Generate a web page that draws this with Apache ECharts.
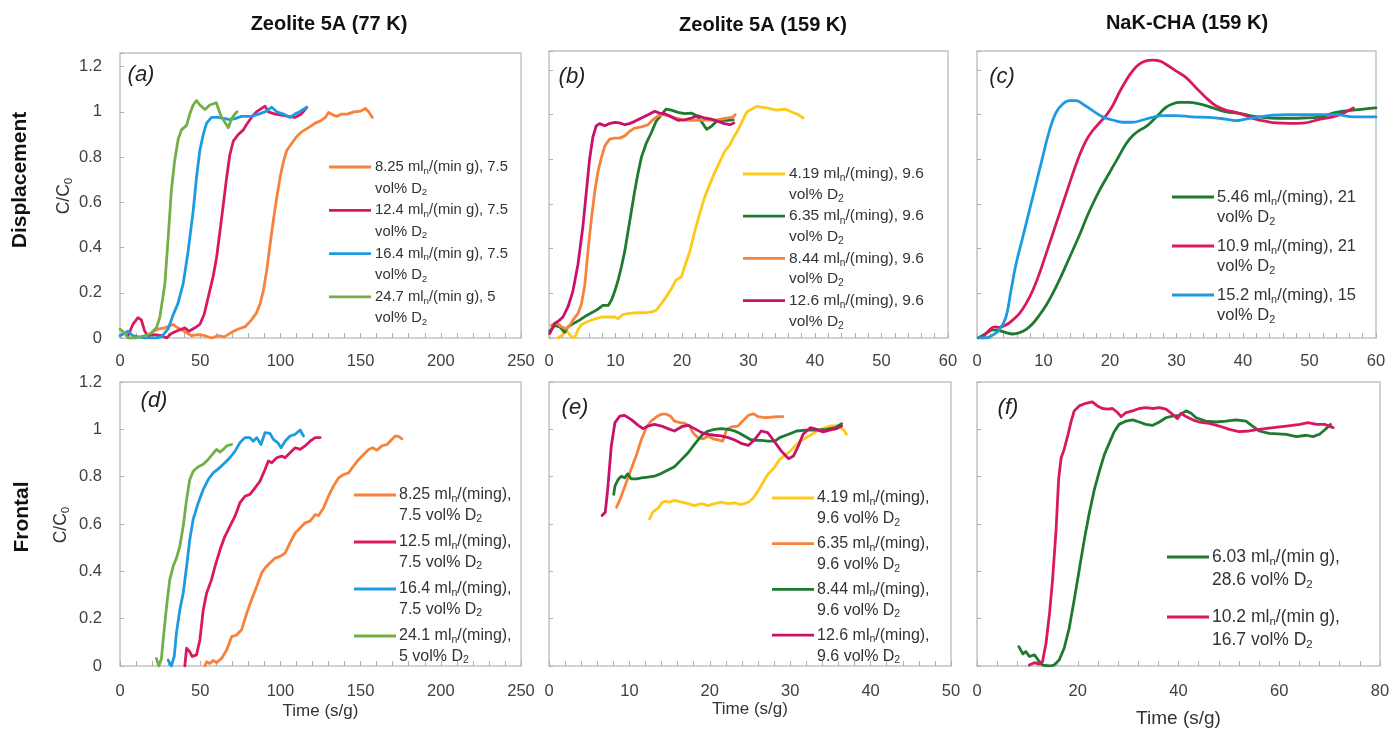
<!DOCTYPE html>
<html>
<head>
<meta charset="utf-8">
<script src="https://cdn.jsdelivr.net/npm/echarts/dist/echarts.min.js"></script>
<style>
  html, body { margin: 0; padding: 0; background: #ffffff; }
  #chart { width: 1392px; height: 731px; }
</style>
</head>
<body>
<div id="chart"></div>
<script>
// ---------- Breakthrough curves, C/C0 against time (s/g) ----------

// (a) Zeolite 5A, 77 K, displacement
const a_8_25 = [[21,0.03],[24,0.04],[28,0.045],[33,0.06],[36,0.045],[40,0.03],[44.6,0.01],[49,0.015],[53,0.01],[57,0],[61,0.01],[65,0.005],[69.6,0.025],[73.8,0.04],[78,0.05],[82,0.08],[85,0.11],[87.3,0.15],[89.4,0.21],[91.5,0.3],[93.5,0.41],[95.6,0.52],[97.7,0.62],[99.8,0.71],[101.9,0.78],[104,0.83],[107,0.86],[110,0.89],[113,0.91],[117.5,0.93],[121.7,0.95],[125,0.96],[128,0.975],[130,0.997],[133,0.985],[135.4,0.98],[138,0.99],[141.7,0.99],[145.8,1.0],[150,1.003],[153,1.015],[155,1.0],[157.3,0.975]];
const a_12_4 = [[5,0.01],[8,0.06],[11.2,0.09],[13.3,0.08],[15.4,0.03],[17.5,0.01],[21.7,0.015],[26,0.01],[29,0],[32,0.02],[35,0.03],[40.4,0.045],[43,0.03],[46.7,0.045],[49.8,0.06],[52.5,0.105],[55,0.18],[58,0.27],[60.2,0.355],[62.3,0.47],[64.4,0.59],[66.5,0.71],[68.5,0.81],[70.6,0.87],[73.8,0.9],[76.9,0.92],[79,0.945],[82,0.975],[85,1.0],[88.3,1.015],[90.4,1.025],[92.5,1.0],[96.7,0.99],[100.8,0.985],[105,0.98],[109,0.975],[113,0.99],[116.5,1.02]];
const a_16_4 = [[0,0.01],[5,0.03],[8,0.01],[15,0],[22,0],[25.8,0.005],[30,0.04],[33,0.1],[36,0.15],[39.4,0.24],[42.5,0.385],[45.6,0.56],[47.7,0.71],[49.8,0.83],[51.9,0.9],[54,0.95],[57,0.975],[61,0.975],[65.4,0.97],[68.5,0.965],[71.7,0.97],[75.8,0.98],[82,0.98],[86.3,0.99],[90.4,1.0],[94.6,1.02],[97.7,1.0],[101.9,0.99],[106,0.975],[109,0.99],[112,1.0],[116.5,1.02]];
const a_24_7 = [[0,0.04],[3,0.02],[5,0],[10,0],[15,0.01],[19,0.02],[22.7,0.045],[24.8,0.09],[28,0.24],[30,0.44],[32,0.65],[34,0.78],[36.3,0.88],[38.3,0.92],[41.5,0.94],[43.5,0.99],[45.6,1.03],[47.7,1.05],[49.8,1.03],[53,1.01],[56,1.03],[60,1.04],[63,0.98],[67.5,0.93],[69.6,0.97],[71.6,0.99],[73,1.0]];

// (b) Zeolite 5A, 159 K, displacement
const b_4_19 = [[1.35,0],[1.85,0.01],[2.6,0.034],[3.5,0.0],[4.0,0.01],[4.4,0.04],[4.9,0.06],[5.9,0.075],[6.9,0.085],[7.9,0.094],[8.9,0.094],[9.9,0.094],[10.4,0.086],[11.1,0.105],[12.1,0.11],[13.1,0.113],[14.4,0.113],[15.6,0.118],[16.1,0.124],[16.9,0.154],[17.6,0.183],[18.4,0.22],[19.1,0.26],[19.9,0.273],[20.4,0.32],[21.2,0.39],[21.9,0.475],[22.7,0.56],[23.4,0.63],[24.2,0.69],[24.9,0.74],[25.7,0.79],[26.4,0.835],[27.2,0.865],[27.7,0.895],[28.4,0.93],[29.2,0.98],[29.7,1.01],[30.2,1.02],[31.2,1.037],[32.7,1.03],[34.2,1.02],[35.5,1.025],[36.7,1.01],[37.5,1.0],[38.2,0.985]];
const b_6_35 = [[0.1,0.03],[0.85,0.056],[1.6,0.05],[2.36,0.026],[2.86,0.05],[3.6,0.064],[4.6,0.08],[5.6,0.1],[6.6,0.116],[7.4,0.13],[8.1,0.146],[8.9,0.146],[9.4,0.17],[9.9,0.21],[10.4,0.26],[10.9,0.32],[11.4,0.39],[11.9,0.48],[12.4,0.57],[12.9,0.66],[13.4,0.74],[13.9,0.81],[14.6,0.87],[15.4,0.92],[16.1,0.97],[16.9,1.0],[17.6,1.025],[18.4,1.02],[19.4,1.01],[20.4,1.005],[21.4,1.007],[22.2,0.995],[22.9,0.97],[23.7,0.935],[24.4,0.947],[25.2,0.97],[25.9,0.975],[26.9,0.975],[27.7,0.977]];
const b_8_44 = [[0.35,0.056],[1.1,0.07],[1.85,0.05],[2.6,0.04],[3.1,0.056],[3.6,0.08],[4.36,0.11],[4.86,0.15],[5.4,0.24],[5.86,0.39],[6.4,0.54],[6.9,0.66],[7.4,0.75],[7.9,0.81],[8.4,0.86],[9.1,0.89],[9.9,0.895],[10.6,0.895],[11.4,0.905],[12.1,0.925],[12.9,0.94],[13.9,0.945],[14.9,0.955],[15.6,0.977],[16.4,0.995],[17.1,1.0],[18.1,0.995],[19.1,0.985],[20.2,0.977],[21.2,0.975],[22.4,0.975],[23.7,0.977],[24.9,0.975],[25.9,0.98],[26.9,0.985],[27.7,0.99],[28,1.0]];
const b_12_6 = [[0.1,0.02],[0.85,0.064],[1.6,0.08],[2.1,0.094],[2.86,0.14],[3.6,0.21],[4.36,0.33],[5.1,0.5],[5.6,0.65],[6.1,0.8],[6.6,0.9],[7.1,0.95],[7.6,0.96],[8.4,0.95],[9.1,0.96],[9.9,0.965],[10.6,0.963],[11.4,0.955],[12.1,0.96],[12.9,0.97],[13.9,0.985],[14.9,1.0],[15.9,1.015],[16.6,1.007],[17.4,1.004],[18.4,0.99],[19.4,0.975],[20.4,0.977],[21.4,0.985],[22.4,0.995],[23.4,0.985],[24.4,0.98],[25.4,0.97],[26.4,0.96],[27.2,0.955],[27.8,0.963]];

// (c) NaK-CHA, 159 K, displacement
const c_5_46 = [[0.2,0],[1.35,0.02],[2.36,0.036],[3.36,0.033],[4.36,0.024],[5.36,0.018],[6.4,0.024],[7.4,0.039],[8.4,0.065],[9.4,0.103],[10.4,0.147],[11.4,0.2],[12.4,0.26],[13.4,0.326],[14.4,0.393],[15.4,0.46],[16.4,0.534],[17.4,0.6],[18.4,0.66],[19.4,0.713],[20.4,0.765],[21.4,0.817],[22.4,0.869],[23.4,0.906],[24.4,0.929],[25.4,0.946],[26.4,0.973],[27.4,1.003],[28.4,1.033],[29.4,1.048],[30.4,1.055],[31.9,1.055],[33.4,1.048],[34.9,1.036],[36.4,1.021],[37.9,1.01],[39.5,1.006],[41,0.996],[43,0.988],[45,0.984],[47,0.984],[49,0.985],[51.6,0.99],[54,1.01],[56.6,1.02],[60,1.03]];
const c_10_9 = [[0.8,0],[1.85,0.036],[2.6,0.05],[3.36,0.048],[4.36,0.058],[5.36,0.08],[6.4,0.11],[7.4,0.155],[8.4,0.214],[9.4,0.29],[10.4,0.378],[11.4,0.467],[12.4,0.557],[13.4,0.646],[14.4,0.735],[15.4,0.817],[16.4,0.884],[17.4,0.929],[18.5,0.966],[19.4,0.996],[20.4,1.04],[21.4,1.1],[22.4,1.152],[23.4,1.196],[24.4,1.226],[25.4,1.241],[26.4,1.244],[27.4,1.241],[28.4,1.226],[29.9,1.196],[31.4,1.167],[32.9,1.122],[34.4,1.077],[35.9,1.04],[37.4,1.021],[38.9,1.01],[40.4,0.996],[41.9,0.98],[43.5,0.97],[45,0.963],[47,0.961],[49,0.962],[51.6,0.98],[54,0.994],[56.6,1.03]];
const c_15_2 = [[0.35,0],[1.35,0],[2.36,0.013],[3.36,0.036],[4.36,0.095],[5.1,0.21],[5.86,0.33],[6.87,0.45],[7.87,0.57],[8.87,0.69],[9.87,0.81],[10.9,0.93],[11.9,1.01],[12.9,1.048],[13.9,1.063],[14.9,1.063],[15.9,1.048],[17.4,1.018],[18.9,0.99],[20.4,0.976],[21.9,0.966],[23.4,0.966],[24.9,0.976],[26.4,0.988],[27.9,0.996],[29.9,0.996],[32.4,0.99],[34.9,0.988],[37.4,0.98],[38.9,0.973],[40.4,0.98],[42.5,0.99],[44.5,0.998],[46.6,1.0],[51.6,1.0],[54.1,1.0],[56.6,0.99],[60,0.99]];

// (d) Zeolite 5A, 77 K, frontal
const d_8_25 = [[52.9,0],[54,0.018],[56,0.011],[58.1,0.023],[60.2,0.014],[63.3,0.032],[66.5,0.068],[69.6,0.124],[72.7,0.131],[75.8,0.153],[79,0.223],[82,0.28],[85.2,0.336],[88.3,0.393],[90.4,0.414],[93.5,0.435],[96.7,0.456],[99.8,0.463],[102.9,0.477],[106,0.52],[109.2,0.562],[112.3,0.583],[115.4,0.605],[118.5,0.612],[121.7,0.64],[123.8,0.636],[126.9,0.668],[130,0.718],[133.1,0.76],[136.3,0.795],[139.4,0.809],[142.5,0.816],[145.6,0.845],[148.8,0.873],[151.9,0.894],[155,0.915],[157.5,0.922],[160.2,0.912],[163.3,0.93],[166.5,0.936],[169.6,0.958],[171.7,0.972],[173.8,0.969],[175.8,0.96]];
const d_12_5 = [[40.4,0],[41.5,0.075],[43.5,0.06],[45,0.04],[47.7,0.047],[49.8,0.11],[51.9,0.237],[54,0.308],[57,0.364],[59.2,0.42],[62.3,0.49],[65.4,0.548],[68.5,0.59],[71.7,0.633],[74.8,0.69],[77.9,0.717],[81,0.725],[84.2,0.753],[87.3,0.781],[90.4,0.83],[92.5,0.866],[94.6,0.859],[97.7,0.88],[100.8,0.887],[102.9,0.88],[106,0.901],[109.2,0.922],[112.3,0.915],[115.4,0.93],[118.5,0.95],[121.7,0.965],[124.8,0.965]];
const d_16_4 = [[30,0.025],[32,0],[33.8,0.04],[35.2,0.14],[37.3,0.237],[39.4,0.308],[41.5,0.42],[43.5,0.534],[45.6,0.619],[48.8,0.69],[51.9,0.746],[55,0.788],[58.1,0.816],[61.3,0.833],[65.4,0.859],[68.5,0.88],[71.7,0.908],[74.8,0.944],[77.9,0.965],[81,0.965],[83.1,0.95],[85.2,0.965],[87.9,0.936],[90.4,0.986],[93.5,0.983],[95.6,0.958],[98.3,0.944],[100.4,0.922],[102.9,0.95],[106,0.972],[109.2,0.979],[112.3,0.997],[114.4,0.972]];
const d_24_1 = [[22.7,0.032],[24.2,0],[25.8,0.03],[26.9,0.11],[29,0.25],[31,0.364],[33.1,0.42],[35.2,0.456],[37.3,0.506],[39.4,0.59],[41.5,0.703],[43.5,0.788],[45.6,0.823],[48.8,0.842],[51.9,0.852],[55,0.873],[58.1,0.898],[60.2,0.915],[62.3,0.904],[64.4,0.915],[66.5,0.93],[69.6,0.936]];

// (e) Zeolite 5A, 159 K, frontal
const e_4_19 = [[12.5,0.621],[12.9,0.65],[13.6,0.668],[14,0.689],[14.4,0.696],[15,0.692],[15.6,0.7],[16.5,0.692],[17.3,0.686],[18.1,0.678],[19,0.686],[19.8,0.678],[20.6,0.686],[21.4,0.692],[22.3,0.686],[23.1,0.689],[23.9,0.682],[24.8,0.692],[25.4,0.71],[26,0.739],[26.6,0.774],[27.2,0.809],[27.9,0.833],[28.7,0.873],[30,0.908],[31.2,0.95],[32.5,0.975],[33.7,1.0],[35,1.014],[35.9,1.014],[36.6,1.0],[37,0.979]];
const e_6_35 = [[8.4,0.671],[9,0.718],[9.6,0.774],[10.2,0.83],[10.9,0.894],[11.5,0.958],[12.1,1.007],[12.7,1.035],[13.4,1.054],[14,1.064],[14.6,1.064],[15.1,1.056],[15.6,1.035],[16.3,1.028],[16.9,1.025],[17.5,1.014],[17.9,0.986],[18.5,0.965],[19.2,0.96],[19.8,0.972],[20.4,0.96],[21,0.955],[21.6,0.95],[22.1,1.0],[22.7,1.01],[23.5,1.014],[24.1,1.035],[24.8,1.059],[25.4,1.066],[26,1.054],[26.8,1.049],[27.7,1.052],[28.4,1.054],[29.1,1.054]];
const e_8_44 = [[8.05,0.725],[8.2,0.76],[8.6,0.788],[9,0.802],[9.4,0.795],[9.8,0.812],[10.2,0.791],[10.9,0.791],[11.5,0.795],[12.3,0.798],[13.1,0.802],[14,0.814],[14.8,0.828],[15.6,0.842],[16.5,0.873],[17.3,0.901],[18.1,0.936],[19,0.975],[19.8,0.993],[20.6,1.0],[21.4,1.003],[22.3,1.0],[23.1,0.993],[23.7,0.983],[24.3,0.972],[25,0.958],[25.6,0.953],[26.4,0.953],[27.2,0.95],[28.1,0.95],[28.7,0.965],[29.8,0.979],[30.8,0.993],[32,0.997],[33.3,0.997],[34.5,1.0],[35.6,1.007],[36.4,1.024]];
const e_12_6 = [[6.6,0.636],[7,0.65],[7.3,0.746],[7.75,0.93],[8.2,1.028],[8.8,1.056],[9.4,1.059],[10.2,1.042],[11.1,1.017],[11.7,1.003],[12.3,1.014],[13.1,1.021],[14,1.014],[14.8,1.003],[15.6,0.993],[16.5,1.011],[17.3,1.017],[18.1,1.003],[19,0.986],[19.8,0.979],[20.6,0.975],[21.4,0.972],[22.3,0.965],[23.1,0.955],[23.9,0.941],[24.8,0.932],[25.6,0.958],[26.4,0.993],[27.2,0.986],[27.9,0.955],[28.9,0.908],[29.8,0.876],[30.4,0.887],[31,0.929],[31.6,0.979],[32.5,1.007],[33.3,1.0],[34.1,0.989],[34.9,0.997],[35.8,1.003],[36.4,1.014]];

// (f) NaK-CHA, 159 K, frontal
const f_6_03 = [[8.3,0.082],[9.1,0.051],[9.7,0.061],[10.4,0.04],[11.4,0.047],[12.4,0.018],[13,0.004],[14.4,0],[15.3,0.004],[16.3,0.025],[17.3,0.075],[18.3,0.16],[19.3,0.28],[20.3,0.407],[21.3,0.534],[22.3,0.647],[23.3,0.746],[24.3,0.823],[25.3,0.894],[26.3,0.944],[27.2,0.989],[28.2,1.021],[29.6,1.035],[30.9,1.04],[32.2,1.031],[33.5,1.021],[34.9,1.017],[36.2,1.031],[37.5,1.049],[38.8,1.056],[40.1,1.059],[41.5,1.078],[42.5,1.068],[43.5,1.049],[45.4,1.035],[47.4,1.031],[49.4,1.035],[51.4,1.04],[53.4,1.035],[54.7,1.014],[56,0.993],[58,0.983],[61.4,0.979],[63.4,0.969],[65.4,0.975],[66.7,0.969],[68,0.979],[69,0.997],[70.2,1.021]];
const f_10_2 = [[10.4,0.004],[11.4,0.014],[12.4,0.008],[13,0.018],[13.7,0.096],[14.4,0.223],[15,0.364],[15.7,0.576],[16.2,0.788],[16.7,0.88],[17.3,0.915],[18,0.972],[18.7,1.035],[19.3,1.078],[20.3,1.099],[21.6,1.11],[22.9,1.116],[23.9,1.099],[24.9,1.088],[25.9,1.085],[26.9,1.088],[27.9,1.071],[28.6,1.054],[29.6,1.071],[30.9,1.078],[32.2,1.088],[33.5,1.092],[34.9,1.088],[36.2,1.092],[37.5,1.085],[38.8,1.064],[39.8,1.045],[40.5,1.068],[41.5,1.054],[42.8,1.04],[44.1,1.031],[46.1,1.025],[48.1,1.014],[50.1,1.0],[52,0.99],[54,0.993],[56,1.0],[58.8,1.007],[61.4,1.014],[64.1,1.021],[65.7,1.028],[67.4,1.021],[69,1.021],[70.7,1.007]];

// Axis ranges: [min, max, step]
const xRangeZ77 = [0, 250, 50];
const xRangeZ159Top = [0, 60, 10];
const xRangeChaTop = [0, 60, 10];
const xRangeZ159Bottom = [0, 50, 10];
const xRangeChaBottom = [0, 80, 20];
const yTicks = [0, 0.2, 0.4, 0.6, 0.8, 1, 1.2];

// Headings and legend texts ({s|..} marks a subscript)
const columnTitles = ['Zeolite 5A (77 K)', 'Zeolite 5A (159 K)', 'NaK-CHA (159 K)'];
const rowTitles = ['Displacement', 'Frontal'];
const panelTags = ['(a)', '(b)', '(c)', '(d)', '(e)', '(f)'];
const yName = 'C/C{s|0}';
const xName = 'Time (s/g)';

const legA = [['8.25 ml{s|n}/(min g), 7.5', 'vol% D{s|2}'], ['12.4 ml{s|n}/(min g), 7.5', 'vol% D{s|2}'], ['16.4 ml{s|n}/(min g), 7.5', 'vol% D{s|2}'], ['24.7 ml{s|n}/(min g), 5', 'vol% D{s|2}']];
const legB = [['4.19 ml{s|n}/(ming), 9.6', 'vol% D{s|2}'], ['6.35 ml{s|n}/(ming), 9.6', 'vol% D{s|2}'], ['8.44 ml{s|n}/(ming), 9.6', 'vol% D{s|2}'], ['12.6 ml{s|n}/(ming), 9.6', 'vol% D{s|2}']];
const legC = [['5.46 ml{s|n}/(ming), 21', 'vol% D{s|2}'], ['10.9 ml{s|n}/(ming), 21', 'vol% D{s|2}'], ['15.2 ml{s|n}/(ming), 15', 'vol% D{s|2}']];
const legD = [['8.25 ml{s|n}/(ming),', '7.5 vol% D{s|2}'], ['12.5 ml{s|n}/(ming),', '7.5 vol% D{s|2}'], ['16.4 ml{s|n}/(ming),', '7.5 vol% D{s|2}'], ['24.1 ml{s|n}/(ming),', '5 vol% D{s|2}']];
const legE = [['4.19 ml{s|n}/(ming),', '9.6 vol% D{s|2}'], ['6.35 ml{s|n}/(ming),', '9.6 vol% D{s|2}'], ['8.44 ml{s|n}/(ming),', '9.6 vol% D{s|2}'], ['12.6 ml{s|n}/(ming),', '9.6 vol% D{s|2}']];
const legF = [['6.03 ml{s|n}/(min g),', '28.6 vol% D{s|2}'], ['10.2 ml{s|n}/(min g),', '16.7 vol% D{s|2}']];

// ---------- styling ----------
const ORANGE = '#F6823B', MAGENTA = '#D9185F', PLUM = '#C9106A', BLUE = '#1D9BE0',
      LGREEN = '#73AF46', DGREEN = '#1E7A31', YELLOW = '#FFC918';
const FONT = "'Liberation Sans', Arial, sans-serif";
const TICK_COLOR = '#404040';
const BORDER = '#C4C4C4';

// Plot boxes in pixels, with per-panel y maximum
const panels = [
  { box: [120, 53, 401, 285], x: xRangeZ77,        yMax: 1.26, yLabels: true,  smooth: false,
    lines: [[a_8_25, ORANGE], [a_12_4, MAGENTA], [a_16_4, BLUE], [a_24_7, LGREEN]] },
  { box: [549, 51, 399, 287], x: xRangeZ159Top,    yMax: 1.285, yLabels: false, smooth: false,
    lines: [[b_4_19, YELLOW], [b_6_35, DGREEN], [b_8_44, ORANGE], [b_12_6, PLUM]] },
  { box: [977, 51, 399, 287], x: xRangeChaTop,     yMax: 1.285, yLabels: false, smooth: 0.4,
    lines: [[c_5_46, DGREEN], [c_10_9, MAGENTA], [c_15_2, BLUE]] },
  { box: [120, 382, 401, 284], x: xRangeZ77,       yMax: 1.2, yLabels: true,  smooth: false, xName: [37, 17],
    lines: [[d_8_25, ORANGE], [d_12_5, MAGENTA], [d_16_4, BLUE], [d_24_1, LGREEN]] },
  { box: [549, 382, 402, 284], x: xRangeZ159Bottom, yMax: 1.2, yLabels: false, smooth: false, xName: [33, 17],
    lines: [[e_4_19, YELLOW], [e_6_35, ORANGE], [e_8_44, DGREEN], [e_12_6, PLUM]] },
  { box: [977, 382, 403, 284], x: xRangeChaBottom, yMax: 1.2, yLabels: false, smooth: false, xName: [43, 19],
    lines: [[f_6_03, DGREEN], [f_10_2, MAGENTA]] }
];

// Legend blocks: texts, colours, line start x, text x, first row y, row step, second-line offset, font size
const legends = [
  { rows: legA, colors: [ORANGE, MAGENTA, BLUE, LGREEN], lx: 329, tx: 375, y: 167, step: 43.3, dy: 21.5, fs: 14.8 },
  { rows: legB, colors: [YELLOW, DGREEN, ORANGE, PLUM],  lx: 743, tx: 789, y: 174, step: 42.2, dy: 20.7, fs: 15.5 },
  { rows: legC, colors: [DGREEN, MAGENTA, BLUE],         lx: 1172, tx: 1217, y: 197, step: 49, dy: 20.5, fs: 16.5 },
  { rows: legD, colors: [ORANGE, MAGENTA, BLUE, LGREEN], lx: 354, tx: 399, y: 495, step: 47, dy: 20.3, fs: 16 },
  { rows: legE, colors: [YELLOW, ORANGE, DGREEN, PLUM],  lx: 772, tx: 817, y: 498, step: 45.7, dy: 21, fs: 16 },
  { rows: legF, colors: [DGREEN, MAGENTA],               lx: 1167, tx: 1212, y: 557, step: 60, dy: 23, fs: 17.5 }
];

function richSub(fs, color) {
  return {
    s: { fontSize: fs * 0.66, fontFamily: FONT, fill: color, color: color,
         lineHeight: fs * 0.7, verticalAlign: 'bottom' }
  };
}

function textEl(x, y, text, fs, opts) {
  opts = opts || {};
  const color = opts.color || '#262626';
  return {
    type: 'text', x: x, y: y, rotation: opts.rotation || 0, silent: true,
    style: {
      text: text, x: 0, y: 0,
      fontSize: fs, fontFamily: FONT,
      fontWeight: opts.weight || 'normal', fontStyle: opts.italic ? 'italic' : 'normal',
      fill: color, lineHeight: Math.round(fs * 1.2),
      align: opts.align || 'left', textAlign: opts.align || 'left',
      verticalAlign: 'middle', textVerticalAlign: 'middle',
      rich: richSub(fs, color)
    }
  };
}

const grids = [], xAxes = [], yAxes = [], series = [], graphics = [];

panels.forEach((p, i) => {
  const [left, top, width, height] = p.box;
  grids.push({ left, top, width, height, show: true, borderColor: BORDER, borderWidth: 1.5,
               backgroundColor: 'transparent', containLabel: false, outerBoundsMode: 'none' });
  const xa = {
    type: 'value', gridIndex: i, min: p.x[0], max: p.x[1], interval: p.x[2],
    axisLine: { show: false },
    axisTick: { show: true, inside: true, length: 5, lineStyle: { color: '#B0B0B0', width: 1 } },
    minorTick: { show: true, splitNumber: 5, length: 5, lineStyle: { color: '#B0B0B0', width: 1 } },
    splitLine: { show: false },
    axisLabel: { color: TICK_COLOR, fontSize: 16.5, fontFamily: FONT, margin: i < 3 ? 15 : 17,
                 showMinLabel: true, showMaxLabel: true, hideOverlap: false }
  };
  if (p.xName) {
    xa.name = xName;
    xa.nameLocation = 'middle';
    xa.nameGap = p.xName[0];
    xa.nameTextStyle = { color: '#333333', fontSize: p.xName[1], fontFamily: FONT };
  }
  xAxes.push(xa);
  yAxes.push({
    type: 'value', gridIndex: i, min: 0, max: p.yMax, interval: 0.2,
    axisLine: { show: false },
    axisTick: { show: true, inside: true, length: 4, lineStyle: { color: '#B0B0B0', width: 1 } },
    splitLine: { show: false },
    axisLabel: {
      show: p.yLabels, color: TICK_COLOR, fontSize: 16.5, fontFamily: FONT, margin: 18,
      showMaxLabel: true,
      formatter: v => yTicks.some(t => Math.abs(t - v) < 1e-6) ? String(+v.toFixed(1)) : ''
    }
  });
  p.lines.forEach(([data, color]) => {
    series.push({
      type: 'line', xAxisIndex: i, yAxisIndex: i, data: data,
      showSymbol: false, symbol: 'none', smooth: p.smooth, silent: true,
      color: color, lineStyle: { color: color, width: 2.8, join: 'round', cap: 'round' }
    });
  });
});

// Legends drawn as line samples with two-line labels
legends.forEach(L => {
  L.rows.forEach((row, k) => {
    const y = L.y + k * L.step;
    graphics.push({ type: 'line', silent: true,
      shape: { x1: L.lx, y1: y, x2: L.lx + 42, y2: y },
      style: { stroke: L.colors[k], lineWidth: 2.8 } });
    graphics.push(textEl(L.tx, y, row[0], L.fs, { color: '#333333' }));
    graphics.push(textEl(L.tx, y + L.dy, row[1], L.fs, { color: '#333333' }));
  });
});

// Column headings, row headings, panel tags, y-axis names
[[329, 24], [763, 25], [1187, 23]].forEach(([x, y], i) =>
  graphics.push(textEl(x, y, columnTitles[i], 20, { weight: 'bold', align: 'center', color: '#111111' })));
graphics.push(textEl(20, 180, rowTitles[0], 21, { weight: 'bold', align: 'center', color: '#111111', rotation: Math.PI / 2 }));
graphics.push(textEl(22, 517, rowTitles[1], 21, { weight: 'bold', align: 'center', color: '#111111', rotation: Math.PI / 2 }));
[[141, 75], [572, 77], [1002, 77], [154, 401], [575, 408], [1008, 408]].forEach(([x, y], i) =>
  graphics.push(textEl(x, y, panelTags[i], 22, { italic: true, align: 'center', color: '#222222' })));
graphics.push(textEl(64, 196, yName, 17.5, { align: 'center', color: '#333333', rotation: Math.PI / 2 }));
graphics.push(textEl(61, 525, yName, 17.5, { align: 'center', color: '#333333', rotation: Math.PI / 2 }));

const chart = echarts.init(document.getElementById('chart'), null, { renderer: 'canvas' });
chart.setOption({
  animation: false,
  backgroundColor: '#ffffff',
  grid: grids,
  xAxis: xAxes,
  yAxis: yAxes,
  series: series,
  graphic: { elements: graphics }
});
</script>
</body>
</html>
